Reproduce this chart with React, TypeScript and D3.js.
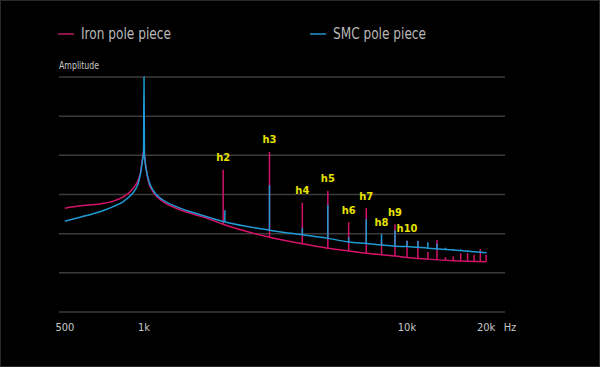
import React from "react";
import * as d3 from "d3";

// Base spectrum curves (frequency in Hz, amplitude in arbitrary units 0–60)
const ironFreq = [500, 571, 680, 764, 834, 885, 924, 951, 971, 985, 1000, 1006, 1036, 1082, 1181, 1327, 1535, 1777, 2000, 3000, 4000, 5000, 6000, 7000, 8000, 9000, 10000, 12000, 15000, 20000];
const ironAmp = [26.5, 27.1, 27.6, 28.3, 29.4, 30.7, 32.2, 33.7, 35.8, 38.8, 41.4, 39.7, 33.7, 30.7, 28.2, 26.5, 25.0, 23.7, 22.4, 19.1, 17.4, 16.3, 15.6, 15.0, 14.6, 14.3, 13.9, 13.5, 13.1, 12.8];

const smcFreq = [500, 571, 680, 764, 834, 885, 924, 951, 971, 985, 996, 1000, 1004, 1036, 1082, 1181, 1327, 1535, 1777, 2000, 3000, 4000, 5000, 6000, 7000, 8000, 9000, 10000, 12000, 15000, 20000];
const smcAmp = [23.2, 24.2, 25.6, 26.9, 28.2, 29.6, 31.1, 32.9, 35.5, 38.4, 40.8, 60, 40.0, 34.2, 31.1, 28.6, 26.9, 25.4, 24.1, 23.1, 20.9, 19.7, 18.8, 17.9, 17.5, 17.1, 16.8, 16.7, 16.3, 15.8, 15.1];

// Harmonics
const harmonicLabels = ["h2", "h3", "h4", "h5", "h6", "h7", "h8", "h9", "h10", "", "", "", "", "", "", "", "", "", ""];
const ironHarmFreq = [2000, 3000, 4000, 5000, 6000, 7000, 8000, 9000, 10000, 11000, 12000, 13000, 14000, 15000, 16000, 17000, 18000, 19000, 20000];
const smcHarmFreq = [2030, 3000, 4000, 5000, 6000, 7000, 8000, 9000, 10000, 11000, 12000, 13000, 14000, 15000, 16000, 17000, 18000, 19000, 20000];
const ironHarmAmp = [36.3, 40.9, 27.9, 30.9, 22.9, 26.5, 18.4, 22.4, 18.2, 18.2, 15.3, 18.4, 14.0, 14.2, 15.0, 15.0, 14.6, 16.1, 14.6];
const smcHarmAmp = [26.0, 32.4, 21.4, 27.3, 19.1, 23.7, 19.9, 20.9, 18.2, 18.1, 17.8, 17.4, 16.4, 16.1, 16.0, 15.8, 15.6, 15.6, 15.3];

const xTicks = [500, 1000, 10000, 20000];
const xTickLabels = ["500", "1k", "10k", "20k"];
const yGrid = [0, 10, 20, 30, 40, 50, 60];

const IRON = "#d4126a";
const SMC = "#1f9bd4";
const FONT = "'DejaVu Sans Condensed', 'Liberation Sans Narrow', Roboto, sans-serif";

export default function App() {
  const W = 600, H = 367;
  const x = d3.scaleLog().domain([1000, 10000]).range([144, 407]);
  const y = d3.scaleLinear().domain([0, 60]).range([312, 77]);

  const line = d3
    .line<[number, number]>()
    .x((d) => x(d[0]))
    .y((d) => y(d[1]))
    .curve(d3.curveMonotoneX);

  const ironPts = ironFreq.map((f, i) => [f, ironAmp[i]] as [number, number]);
  const smcPts = smcFreq.map((f, i) => [f, smcAmp[i]] as [number, number]);

  const ironBase = d3.scaleLog().domain(ironFreq).range(ironAmp);
  const smcBase = d3.scaleLog().domain(smcFreq).range(smcAmp);

  return (
    <svg width={W} height={H} style={{ position: "fixed", left: 0, top: 0, background: "#000" }} fontFamily={FONT}>
      <rect x={0} y={0} width={W} height={H} fill="#000" />
      <rect x={0.5} y={0.5} width={W - 1} height={H - 1} fill="none" stroke="#2a2a2a" />

      {/* Legend */}
      <line x1={58} x2={74} y1={34} y2={34} stroke="#8c1448" strokeWidth={2} />
      <text x={81} y={34} dominantBaseline="central" fill="#b8b8b8" fontSize={15} textLength={90} lengthAdjust="spacingAndGlyphs">Iron pole piece</text>
      <line x1={310} x2={326} y1={34} y2={34} stroke="#1a6c99" strokeWidth={2} />
      <text x={333} y={34} dominantBaseline="central" fill="#b8b8b8" fontSize={15} textLength={93} lengthAdjust="spacingAndGlyphs">SMC pole piece</text>

      <text x={59} y={65} dominantBaseline="central" fill="#c8c8c8" fontSize={11} textLength={40} lengthAdjust="spacingAndGlyphs">Amplitude</text>

      {/* Gridlines */}
      {yGrid.map((v) => (
        <line key={v} x1={59} x2={505} y1={y(v)} y2={y(v)} stroke="#3c3c3c" strokeWidth={1.5} />
      ))}

      {/* Curves */}
      <path d={line(ironPts) || ""} fill="none" stroke={IRON} strokeWidth={1.5} />
      {ironHarmFreq.map((f, i) => (
        <line key={"ih" + i} x1={x(f)} x2={x(f)} y1={y(ironBase(f))} y2={y(ironHarmAmp[i])} stroke={IRON} strokeWidth={1.5} />
      ))}
      <path d={line(smcPts) || ""} fill="none" stroke={SMC} strokeWidth={1.5} />
      {smcHarmFreq.map((f, i) => (
        <line key={"sh" + i} x1={x(f)} x2={x(f)} y1={y(smcBase(f))} y2={y(smcHarmAmp[i])} stroke={SMC} strokeWidth={1.5} />
      ))}

      {/* Harmonic labels */}
      {harmonicLabels.map((lab, i) =>
        lab ? (
          <text
            key={"hl" + i}
            x={x(ironHarmFreq[i])}
            y={Math.min(y(ironHarmAmp[i]), y(smcHarmAmp[i])) - 12}
            textAnchor="middle"
            dominantBaseline="central"
            fill="#e8e200"
            fontSize={11}
            fontWeight="bold"
          >
            {lab}
          </text>
        ) : null
      )}

      {/* X tick labels */}
      {xTicks.map((t, i) => (
        <text key={"xt" + i} x={x(t)} y={327} textAnchor="middle" dominantBaseline="central" fill="#c8c8c8" fontSize={11}>
          {xTickLabels[i]}
        </text>
      ))}
      <text x={510} y={327} textAnchor="middle" dominantBaseline="central" fill="#c8c8c8" fontSize={11}>Hz</text>
    </svg>
  );
}
